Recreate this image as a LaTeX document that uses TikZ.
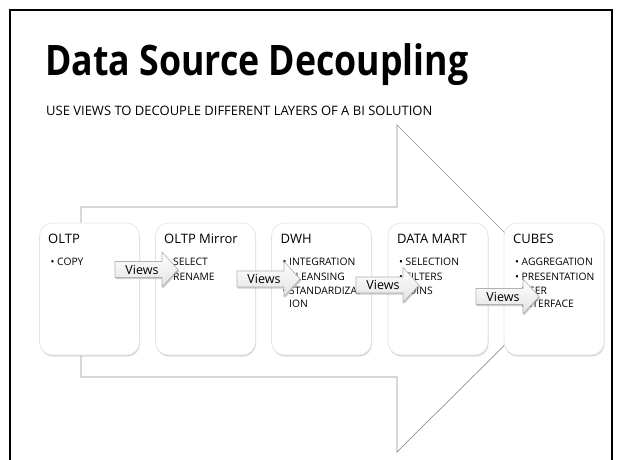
\documentclass[tikz,border=0pt]{standalone}
\usepackage{fontspec}
\setmainfont{Open Sans}
\newfontfamily\titlefont[FakeStretch=0.85]{Open Sans}
\usetikzlibrary{shadows}
\tikzset{
  boxnode/.style={rounded corners=13pt, fill=white, draw=gray!22, line width=0.6pt,
    minimum width=100pt, minimum height=132pt, inner sep=0pt,
    drop shadow={shadow xshift=0.6pt, shadow yshift=-1.6pt, opacity=0.30, fill=gray}},
  boxtitle/.style={anchor=base west, inner sep=0pt, font=\fontsize{13}{15}\selectfont},
  bl/.style={anchor=base west, inner sep=0pt, font=\fontsize{10.3}{12}\selectfont},
  arrowbody/.style={draw=gray!60, line width=0.6pt, top color=white, bottom color=gray!22},
  arrowshadow/.style={fill=gray, opacity=0.40},
  viewslabel/.style={anchor=base, inner sep=0pt, font=\fontsize{12.5}{14}\selectfont},
  bigarrow/.style={draw=gray!85, line width=0.7pt}
}
\newcommand\viewsarrow[3]{%
  \begin{scope}[shift={(#2,#3)}]
    \fill[arrowshadow] (1,-6.5) -- (48,-6.5) -- (48,-16) -- (64.5,1.5) -- (48,19) -- (48,9.5) -- (1,9.5) -- cycle;
    \path[arrowbody] (0,-8) -- (47,-8) -- (47,-17.5) -- (63,0) -- (47,17.5) -- (47,8) -- (0,8) -- cycle;
    \node[viewslabel] (#1) at (27,4.5) {Views};
  \end{scope}}
\begin{document}
\begin{tikzpicture}[x=1pt,y=-1pt]
\useasboundingbox (0,0) rectangle (621,459);
\clip (0,0) rectangle (621,459);
\fill[white] (0,0) rectangle (621,459);
% slide frame
\draw[line width=2pt] (9.5,470) -- (9.5,9.5) -- (612,9.5) -- (612,470);
% title
\node[anchor=base west, inner sep=0pt, font=\titlefont\fontsize{42}{44}\bfseries\selectfont] (title) at (45,75) {Data Source Decoupling};
\node[anchor=base west, inner sep=0pt, font=\fontsize{13}{14}\selectfont] (subtitle) at (46,115) {USE VIEWS TO DECOUPLE DIFFERENT LAYERS OF A BI SOLUTION};
% big arrow outline
\draw[bigarrow] (81,207) -- (397,207) -- (397,125) -- (561,289) -- (397,452) -- (397,377) -- (81,377) -- cycle;
% boxes
\node[boxnode] (oltp) at (89.5,289) {};
\node[boxnode] (mirror) at (205.5,289) {};
\node[boxnode] (dwh) at (321.5,289) {};
\node[boxnode] (mart) at (438,289) {};
\node[boxnode] (cubes) at (554,289) {};
% box texts
\node[boxtitle] (oltpT) at (48,243) {OLTP};
\node[bl] (oltp1) at (50.5,265) {\makebox[6.5pt][l]{•}COPY};

\node[boxtitle] (mirrorT) at (164,243) {OLTP Mirror};
\node[bl] (mirror1) at (166.5,265) {\makebox[6.5pt][l]{•}SELECT};
\node[bl] (mirror2) at (166.5,280) {\makebox[6.5pt][l]{•}RENAME};

\node[boxtitle] (dwhT) at (280.5,243) {DWH};
\node[bl] (dwh1) at (282.5,265) {\makebox[6.5pt][l]{•}INTEGRATION};
\node[bl] (dwh2) at (282.5,280) {\makebox[6.5pt][l]{•}CLEANSING};
\node[bl] (dwh3) at (282.5,294) {\makebox[6.5pt][l]{•}STANDARDIZAT};
\node[bl] (dwh4) at (289,307) {ION};

\node[boxtitle] (martT) at (397,243) {DATA MART};
\node[bl] (mart1) at (399,265) {\makebox[6.5pt][l]{•}SELECTION};
\node[bl] (mart2) at (399,280) {\makebox[6.5pt][l]{•}FILTERS};
\node[bl] (mart3) at (399,294) {\makebox[6.5pt][l]{•}JOINS};

\node[boxtitle] (cubesT) at (513,243) {CUBES};
\node[bl] (cubes1) at (515,265) {\makebox[6.5pt][l]{•}AGGREGATION};
\node[bl] (cubes2) at (515,280) {\makebox[6.5pt][l]{•}PRESENTATION};
\node[bl] (cubes3) at (515,294) {\makebox[6.5pt][l]{•}USER};
\node[bl] (cubes4) at (521.5,307) {INTERFACE};
% views arrows
\viewsarrow{v1}{115}{269.5}
\viewsarrow{v2}{237}{279}
\viewsarrow{v3}{356}{285}
\viewsarrow{v4}{476}{296.5}
\end{tikzpicture}
\end{document}
